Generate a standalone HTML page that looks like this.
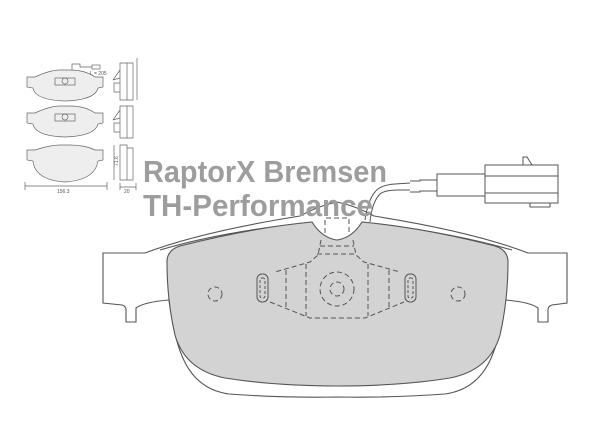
<!DOCTYPE html>
<html><head><meta charset="utf-8"><style>
html,body{margin:0;padding:0;background:#fff;}
svg{display:block}
</style></head><body>
<svg width="600" height="431" viewBox="0 0 600 431" xmlns="http://www.w3.org/2000/svg">
<g fill="none" stroke="#555" stroke-width="1.1">
<path d="M103,253 L145,253 Q200,232 300,216 Q318,206 337,202 Q356,206 374,216 Q474,232 528,253 L567,253 L567,303 L552,305 Q548,306 548,310 L548,322 L538,322 L538,308 Q530,302 505,300 C498,350 488,388 445,394 Q390,398 337,397 Q284,398 229,394 C186,388 176,350 169,300 Q144,302 136,308 L136,322 L126,322 L126,310 Q126,306 122,305 L103,303 Z"/>
<path d="M160,250 Q220,232 312,222 M362,222 Q450,232 512,250"/>
</g>
<path d="M167,262 Q167,250 180,246 Q250,228 312,222 Q322,238 337,240 Q352,238 362,222 Q425,228 495,246 Q508,250 508,262 Q508,300 500,335 Q490,370 450,378 Q400,386 337,386 Q275,386 225,378 Q185,370 175,335 Q167,300 167,262 Z" fill="#d3d3d3" stroke="#555" stroke-width="1.1"/>
<g fill="none" stroke="#555" stroke-width="1" stroke-dasharray="5,3">
<path d="M325,233 L325,218 L349,218 L349,233"/>
<path d="M321,240 L318,255 L310,262 L275,272 M353,240 L356,255 L364,262 L400,272"/>
<path d="M320,246 L354,246 M317,254 L357,254"/>
<path d="M270,302 L305,316 L310,318 L365,318 L370,316 L404,302"/>
<line x1="286" y1="270" x2="286" y2="308"/><line x1="306" y1="264" x2="306" y2="316"/>
<line x1="368" y1="264" x2="368" y2="316"/><line x1="389" y1="270" x2="389" y2="308"/>
<circle cx="337" cy="289" r="17"/><circle cx="337" cy="289" r="7"/>
<circle cx="215" cy="294" r="7"/><circle cx="458" cy="294" r="7"/>
</g>
<g fill="none" stroke="#555" stroke-width="1">
<rect x="257" y="274" width="11" height="28" rx="5"/><rect x="260" y="278" width="5" height="20" rx="2" stroke-dasharray="3,2"/>
<rect x="405" y="274" width="11" height="28" rx="5"/><rect x="408" y="278" width="5" height="20" rx="2" stroke-dasharray="3,2"/>
<path d="M365,220 Q368,200 375,192 Q380,185 395,184 L410,183 M370,222 Q372,202 380,194 Q385,190 398,190 L410,190"/>
<path d="M410,181 L420,181 L420,180 L437,180 L437,191 L420,191 L420,192 L410,192"/>
<rect x="437" y="174" width="48" height="22"/>
<rect x="485" y="165" width="73" height="38"/>
<line x1="485" y1="176" x2="558" y2="176"/><line x1="485" y1="193" x2="558" y2="193"/>
<path d="M523,165 L523,157 L527,157 L532,165 M530,203 L530,207 L550,207 L550,203"/>
</g>
<g font-family="Liberation Sans, sans-serif" font-weight="bold" fill="#9d9d9d">
<text x="143" y="182" font-size="31" textLength="244" lengthAdjust="spacingAndGlyphs">RaptorX Bremsen</text>
<text x="143" y="216" font-size="31" textLength="230" lengthAdjust="spacingAndGlyphs">TH-Performance</text>
</g>
<g fill="none" stroke="#666" stroke-width="0.7">
<g id="p1">
<path d="M27,77 L35,77 Q50,70 60,70 L70,70 Q85,70 95,77 L103,77 L103,87 L98,88 Q95,100 65,101 Q35,100 33,88 L27,87 Z" fill="#eee"/>
<rect x="55" y="78" width="20" height="7"/><circle cx="65" cy="81" r="3"/>
</g>
<use href="#p1" y="36"/>
<path d="M27,150 L35,150 Q50,145 60,145 L70,145 Q85,145 95,150 L103,150 L103,160 L98,161 Q95,180 65,182 Q35,180 33,161 L27,160 Z" fill="#eee"/>
<path d="M72,70 L72,64 L80,64 L80,67 L92,67"/><rect x="92" y="65" width="8" height="4"/>
<path d="M120,63 L127,63 L127,100 L120,100 Z M127,63 L133,63 L133,100 L127,100 M113,80 L120,70 M113,80 L120,78 M114,83 L120,83 L120,92 L114,92 Z"/>
<path d="M120,106 L127,106 L127,138 L120,138 Z M127,106 L133,106 L133,138 L127,138 M113,120 L120,110 M113,120 L120,118 M114,123 L120,123 L120,132 L114,132 Z"/>
<path d="M120,145 L127,145 L127,180 L120,180 Z M127,148 L133,148 L133,180 L127,180 M114,145 L114,180"/>
<path d="M25,182 L25,190 M107,182 L107,190 M25,186 L107,186 M120,183 L120,190 M136,183 L136,190 M120,187 L136,187 M137,58 L137,100"/>
</g>
<g font-family="Liberation Sans, sans-serif" font-size="5" fill="#555">
<text x="90" y="75">L = 205</text>
<text x="57" y="193">156.3</text>
<text x="124" y="193">20</text>
<text x="118" y="166" transform="rotate(-90 118 166)">71.6</text>
</g>
</svg>
</body></html>
